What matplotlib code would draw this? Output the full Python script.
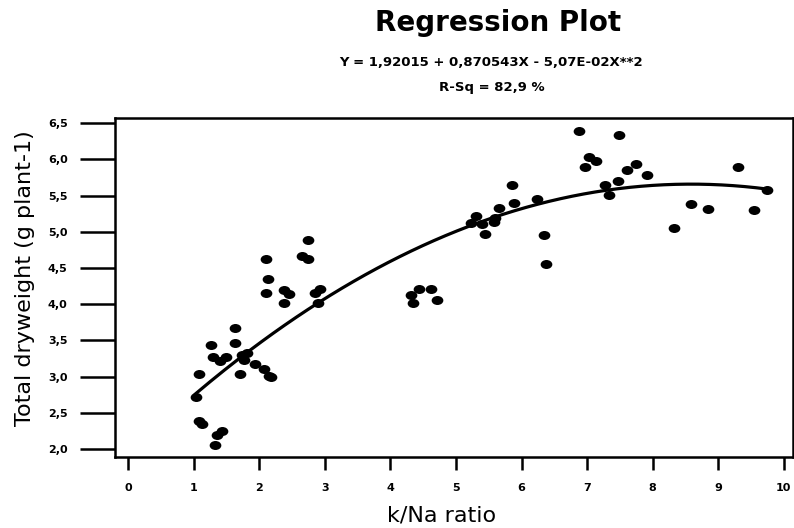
import numpy as np
import matplotlib
matplotlib.use("Agg")
import matplotlib.pyplot as plt
from matplotlib.markers import MarkerStyle
from matplotlib.transforms import Affine2D

# k/Na ratio and total dry weight
kna = [1.03, 1.08, 1.08, 1.13, 1.33, 1.36, 1.43, 1.26, 1.63, 1.63, 1.29, 1.40, 1.49,
       1.73, 1.81, 1.76, 1.70, 1.94, 2.07, 2.15, 2.18,
       2.10, 2.14, 2.10, 2.38, 2.45, 2.37, 2.65, 2.74, 2.75, 2.92, 2.85, 2.89,
       4.43, 4.32, 4.62, 4.71, 4.35,
       5.31, 5.23, 5.39, 5.59, 5.58, 5.45, 5.66, 5.86, 5.89, 6.24, 6.34, 6.38,
       6.88, 7.49, 7.03, 7.13, 6.96, 7.75, 7.61, 7.92, 7.47, 7.27, 7.33,
       8.33, 8.58, 8.85, 9.30, 9.54, 9.75]
weight = [2.72, 3.04, 2.38, 2.34, 2.05, 2.19, 2.25, 3.44, 3.67, 3.46, 3.27, 3.21, 3.27,
          3.30, 3.32, 3.23, 3.04, 3.18, 3.11, 3.01, 3.00,
          4.62, 4.35, 4.15, 4.20, 4.14, 4.02, 4.67, 4.89, 4.62, 4.21, 4.15, 4.02,
          4.21, 4.13, 4.21, 4.06, 4.02,
          5.22, 5.12, 5.11, 5.19, 5.13, 4.97, 5.33, 5.64, 5.40, 5.45, 4.95, 4.56,
          6.39, 6.33, 6.03, 5.97, 5.90, 5.94, 5.85, 5.78, 5.70, 5.64, 5.51,
          5.05, 5.38, 5.32, 5.90, 5.30, 5.58]

# fitted quadratic, coefficients as printed
coef = [1.92015, 0.870543, -5.07e-02]

xticks = list(range(0, 11))
yticks = [2.0, 2.5, 3.0, 3.5, 4.0, 4.5, 5.0, 5.5, 6.0, 6.5]

plt.rcParams['font.family'] = ['DejaVu Sans']

fig = plt.figure(figsize=(7.94, 5.28), dpi=100)
ax = fig.add_axes([0.1448, 0.1345, 0.854, 0.642])

oval = MarkerStyle('o', transform=Affine2D().scale(1.3, 1.0))
ax.scatter(kna, weight, marker=oval, s=42, color='black', linewidths=0, zorder=3)

xfit = np.linspace(min(kna), max(kna), 200)
yfit = coef[0] + coef[1] * xfit + coef[2] * xfit**2
ax.plot(xfit, yfit, color='black', lw=2.3, zorder=2)

ax.set_xlim(-0.2, 10.14)
ax.set_ylim(1.89, 6.57)

ax.set_xticks(xticks)
ax.set_xticklabels([str(t) for t in xticks], fontsize=8, fontweight='bold')
ax.set_yticks(yticks)
ax.set_yticklabels([('%.1f' % t).replace('.', ',') for t in yticks], fontsize=8, fontweight='bold')
ax.tick_params(axis='x', direction='out', length=9, width=1.8, pad=10)
ax.tick_params(axis='y', direction='out', length=25, width=1.8, pad=9)

for s in ax.spines.values():
    s.set_linewidth(1.8)

ax.set_xlabel('k/Na ratio', fontsize=16)
ax.xaxis.set_label_coords(0.482, -0.142)
ax.set_ylabel('Total dryweight (g plant-1)', fontsize=16)
ax.yaxis.set_label_coords(-0.118, 0.528)

fig.text(0.627, 0.956, 'Regression Plot', ha='center', va='center', fontsize=20, fontweight='bold')
fig.text(0.619, 0.881, 'Y = 1,92015 + 0,870543X - 5,07E-02X**2', ha='center', va='center',
         fontsize=9.5, fontweight='bold')
fig.text(0.619, 0.835, 'R-Sq = 82,9 %', ha='center', va='center', fontsize=9.5, fontweight='bold')

plt.savefig('out.png', dpi=100)
